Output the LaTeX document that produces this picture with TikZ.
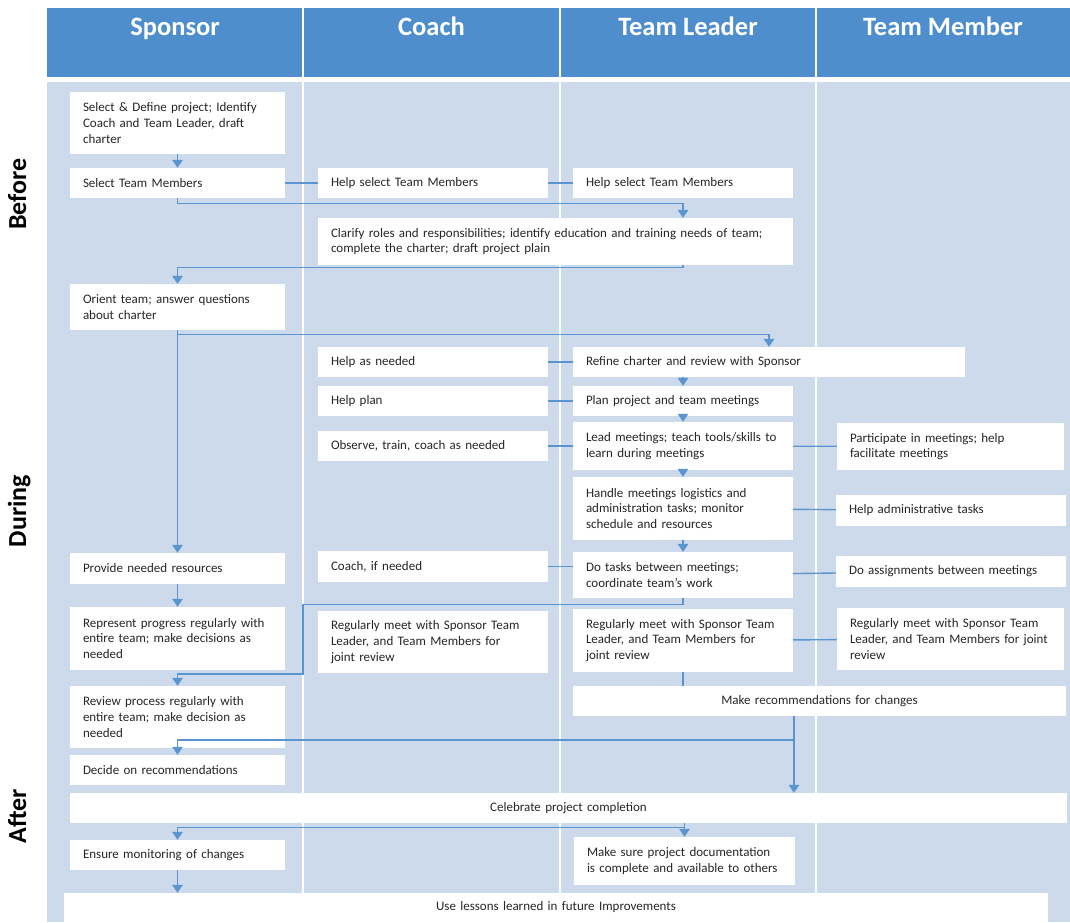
\documentclass[tikz,border=0pt]{standalone}
\usepackage{fontspec}
\setmainfont{Carlito}
\usetikzlibrary{arrows.meta,calc}
\definecolor{hdr}{HTML}{4F8ECC}
\definecolor{bodyc}{HTML}{CDDAEB}
\definecolor{ln}{HTML}{5B95D0}
\definecolor{txt}{HTML}{262626}
\newcommand{\mybox}[7][left]{%
  \pgfmathsetmacro\mytw{#5-#3-26}%
  \node[box, align=#1, text width=\mytw pt, minimum width={#5-#3}, minimum height={#6-#4}]
    (#2) at ({(#3+#5)/2},{(#4+#6)/2}) {#7};}
\begin{document}
\begin{tikzpicture}[x=1pt,y=-1pt,
  box/.style={fill=white, draw=none, inner xsep=13pt, inner ysep=0pt,
    font=\fontsize{13}{15.7}\selectfont, text=txt},
  hdrtxt/.style={text=white, font=\fontsize{26.5}{30}\selectfont\bfseries, anchor=base},
  rowlbl/.style={text=black, font=\fontsize{26}{30}\selectfont\bfseries, anchor=base, rotate=90},
  conn/.style={draw=ln, line width=1.4pt},
  arr/.style={conn, -{Triangle[width=10.5pt,length=8pt]}}]
\fill[white] (0,0) rectangle (1070,922);
\useasboundingbox (0,0) rectangle (1070,922);
\fill[hdr] (47,8) rectangle (1070,77);
\fill[bodyc] (47,82) rectangle (1070,922);
\foreach \xx in {303,560,816} \draw[white, line width=2pt] (\xx,8) -- (\xx,922);

\node[hdrtxt] (hS) at (175,35) {Sponsor};
\node[hdrtxt] (hC) at (431.5,35) {Coach};
\node[hdrtxt] (hL) at (688,35) {Team Leader};
\node[hdrtxt] (hM) at (943,35) {Team Member};

\node[rowlbl] (rB) at (26,194) {Before};
\node[rowlbl] (rD) at (26,511) {During};
\node[rowlbl] (rA) at (26,816) {After};

% Sponsor column
\mybox{b1}{70}{92}{285}{154}{Select \& Define project; Identify\\Coach and Team Leader, draft\\charter}
\mybox{b2}{70}{168}{285}{198}{Select Team Members}
\mybox{orient}{70}{284}{285}{330}{Orient team; answer questions\\about charter}
\mybox{provide}{70}{553}{285}{584}{Provide needed resources}
\mybox{repr}{70}{607}{285}{670}{Represent progress regularly with\\entire team; make decisions as\\needed}
\mybox{review}{70}{686}{285}{748}{Review process regularly with\\entire team; make decision as\\needed}
\mybox{decide}{70}{755}{285}{785}{Decide on recommendations}
\mybox{ensure}{70}{840}{285}{870}{Ensure monitoring of changes}

% Coach column
\mybox{cohelp}{318}{168}{548}{198}{Help select Team Members}
\mybox{clar}{318}{218}{793}{265}{Clarify roles and responsibilities; identify education and training needs of team;\\complete the charter; draft project plain}
\mybox{helpneed}{318}{347}{548}{377}{Help as needed}
\mybox{helpplan}{318}{386}{548}{416}{Help plan}
\mybox{observe}{318}{431}{548}{461}{Observe, train, coach as needed}
\mybox{coachif}{318}{551}{548}{582}{Coach, if needed}
\mybox{coreg}{318}{611}{548}{673}{Regularly meet with Sponsor Team\\Leader, and Team Members for\\joint review}

% Team Leader column
\mybox{tlhelp}{573}{168}{793}{198}{Help select Team Members}
\mybox{refine}{573}{347}{965}{377}{Refine charter and review with Sponsor}
\mybox{plan}{573}{386}{793}{416}{Plan project and team meetings}
\mybox{lead}{573}{422}{793}{470}{Lead meetings; teach tools/skills to\\learn during meetings}
\mybox{handle}{573}{477}{793}{540}{Handle meetings logistics and\\administration tasks; monitor\\schedule and resources}
\mybox{dotasks}{573}{552}{793}{598}{Do tasks between meetings;\\coordinate team’s work}
\mybox{tlreg}{573}{609}{793}{672}{Regularly meet with Sponsor Team\\Leader, and Team Members for\\joint review}
\mybox[center]{makerec}{573}{686}{1066}{716}{Make recommendations for changes}
\mybox{docs}{574}{837}{795}{885}{Make sure project documentation\\is complete and available to others}

% Team Member column
\mybox{partic}{837}{423}{1064}{470}{Participate in meetings; help\\facilitate meetings}
\mybox{helpadm}{836}{495}{1066}{526}{Help administrative tasks}
\mybox{doassign}{836}{556}{1066}{587}{Do assignments between meetings}
\mybox{tmreg}{837}{608}{1064}{670}{Regularly meet with Sponsor Team\\Leader, and Team Members for joint\\review}

% Spanning boxes
\mybox[center]{cel}{70}{793}{1067}{823}{Celebrate project completion}
\mybox[center]{use}{64}{893}{1048}{922}{Use lessons learned in future Improvements}

% Connectors
\coordinate (w1) at (303,674);
\coordinate (mx) at (794,0);
\coordinate (m2) at (794,740);
\draw[arr] (b1) -- (b2);
\draw[conn] (b2) -- (cohelp);
\draw[conn] (cohelp) -- (tlhelp);
\draw[arr] (b2.south) -- ++(0,5) -| (clar.north -| tlhelp.north);
\draw[arr] (clar.south -| tlhelp.south) -- ++(0,2) -| (orient.north);
\draw[arr] (orient.south) -- (provide.north);
\draw[arr] (orient.south) ++(0,4) -| (refine.north);
\draw[conn] (helpneed) -- (refine);
\draw[arr] (refine.south -| plan.north) -- (plan.north);
\draw[conn] (helpplan) -- (plan);
\draw[arr] (plan) -- (lead);
\draw[conn] (observe) -- (lead);
\draw[conn] (lead) -- (partic);
\draw[arr] (lead) -- (handle);
\draw[conn] (handle) -- (helpadm);
\draw[arr] (handle) -- (dotasks);
\draw[conn] (coachif.east) -- (coachif.east -| dotasks.west);
\draw[conn] (dotasks) -- (doassign);
\draw[arr] (provide) -- (repr);
\draw[arr] (dotasks.south) -- ++(0,6) -| (w1) -| (review.north);
\draw[conn] (tlreg) -- (tmreg);
\draw[conn] (tlreg.south) -- (tlreg.south |- makerec.north);
\draw[arr] (makerec.south -| mx) -- (cel.north -| mx);
\draw[arr] (m2) -| (decide.north);
\draw[arr] (cel.south -| docs.north) -- (docs.north);
\draw[arr] (cel.south -| docs.north) ++(0,4) -| (ensure.north);
\draw[arr] (ensure.south) -- (ensure.south |- use.north);
\end{tikzpicture}
\end{document}
